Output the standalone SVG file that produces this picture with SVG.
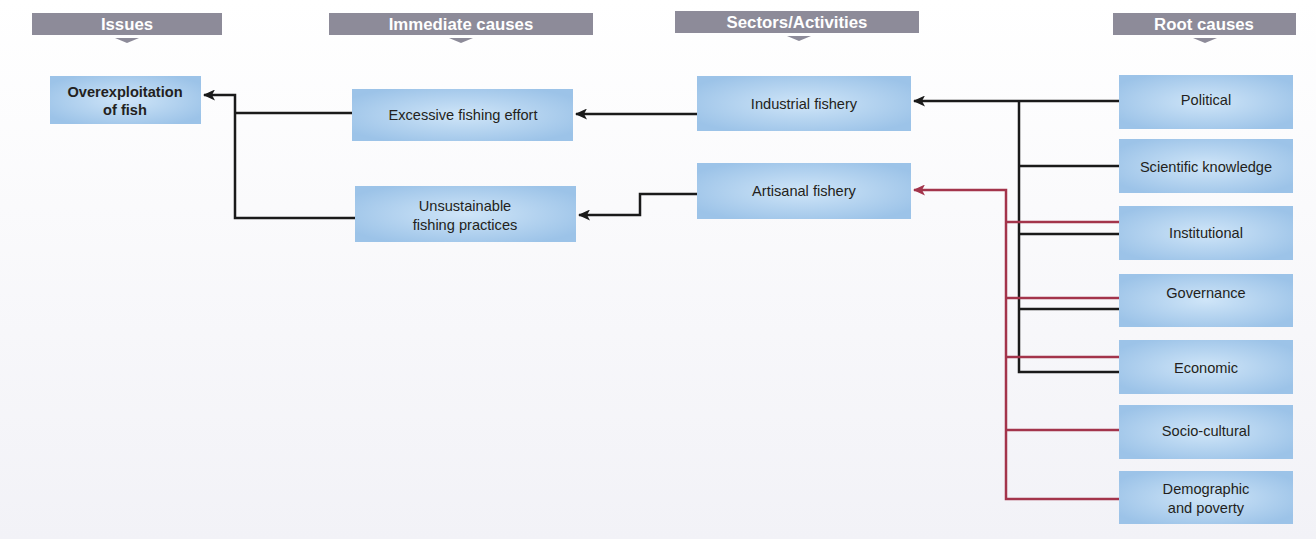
<svg xmlns="http://www.w3.org/2000/svg" width="1316" height="539" viewBox="0 0 1316 539">
<defs>
<linearGradient id="bg" x1="0" y1="0" x2="0" y2="1">
<stop offset="0" stop-color="#ffffff"/>
<stop offset="1" stop-color="#f2f2f7"/>
</linearGradient>
<radialGradient id="nodeFill" cx="0.5" cy="0.5" r="0.6">
<stop offset="0" stop-color="#cfe5f8"/>
<stop offset="1" stop-color="#9cc3e8"/>
</radialGradient>
<marker id="arrowK" viewBox="0 0 12 11" refX="11" refY="5.5" markerWidth="12" markerHeight="11" orient="auto" markerUnits="userSpaceOnUse">
<path d="M12,5.5 L0,0 L3,5.5 L0,11 Z" fill="#1a1a1a"/>
</marker>
<marker id="arrowR" viewBox="0 0 12 11" refX="11" refY="5.5" markerWidth="12" markerHeight="11" orient="auto" markerUnits="userSpaceOnUse">
<path d="M12,5.5 L0,0 L3,5.5 L0,11 Z" fill="#a3344b"/>
</marker>
</defs>
<style>
.hdr{fill:#8d8b99}
.hdrT{font-family:"Liberation Sans",Arial,sans-serif;font-weight:bold;font-size:16.8px;fill:#ffffff;text-anchor:middle}
.node{fill:url(#nodeFill)}
.t{font-family:"Liberation Sans",Arial,sans-serif;font-size:14.6px;fill:#231f20;text-anchor:middle}
.b{font-weight:bold}
.k{fill:none;stroke:#1a1a1a;stroke-width:2.5}
.r{fill:none;stroke:#a3344b;stroke-width:2.5}
</style>
<rect x="0" y="0" width="1316" height="539" fill="url(#bg)"/>

<g id="headers">
<g id="hdr-issues"><rect class="hdr" x="32" y="13" width="190" height="22"/><text class="hdrT" x="127" y="30">Issues</text><path class="hdr" d="M115,38 L139,38 L127,43 Z"/></g>
<g id="hdr-immediate"><rect class="hdr" x="329" y="13" width="264" height="22"/><text class="hdrT" x="461" y="30">Immediate causes</text><path class="hdr" d="M449,38 L473,38 L461,43 Z"/></g>
<g id="hdr-sectors"><rect class="hdr" x="675" y="11" width="244" height="22"/><text class="hdrT" x="797" y="28">Sectors/Activities</text><path class="hdr" d="M787,36 L811,36 L799,41 Z"/></g>
<g id="hdr-root"><rect class="hdr" x="1113" y="13" width="183" height="22"/><text class="hdrT" x="1204" y="30">Root causes</text><path class="hdr" d="M1193,38 L1217,38 L1205,43 Z"/></g>
</g>

<g id="connectors">
<path class="k" d="M1119,101 L914,101" marker-end="url(#arrowK)"/>
<path class="k" d="M1019,101 L1019,372 L1119,372"/>
<path class="k" d="M1019,166 L1119,166"/>
<path class="k" d="M1019,234 L1119,234"/>
<path class="k" d="M1019,309 L1119,309"/>
<path class="k" d="M697,114 L576,114" marker-end="url(#arrowK)"/>
<path class="k" d="M352,113 L235,113"/>
<path class="k" d="M355,218 L235,218 L235,95 L204,95" marker-end="url(#arrowK)"/>
<path class="k" d="M697,194 L640,194 L640,215 L579,215" marker-end="url(#arrowK)"/>
<path class="r" d="M1119,499 L1006,499 L1006,190 L914,190" marker-end="url(#arrowR)"/>
<path class="r" d="M1006,222 L1119,222"/>
<path class="r" d="M1006,298 L1119,298"/>
<path class="r" d="M1006,357 L1119,357"/>
<path class="r" d="M1006,430 L1119,430"/>
</g>

<g id="n-overexploitation"><rect class="node" x="50" y="76" width="151" height="48"/><text class="t b" x="125" y="97">Overexploitation</text><text class="t b" x="125" y="115">of fish</text></g>
<g id="n-excessive"><rect class="node" x="352" y="89" width="221" height="52"/><text class="t" x="463" y="120">Excessive fishing effort</text></g>
<g id="n-unsustainable"><rect class="node" x="355" y="186" width="221" height="56"/><text class="t" x="465" y="211">Unsustainable</text><text class="t" x="465" y="230">fishing practices</text></g>
<g id="n-industrial"><rect class="node" x="697" y="76" width="214" height="55"/><text class="t" x="804" y="109">Industrial fishery</text></g>
<g id="n-artisanal"><rect class="node" x="697" y="163" width="214" height="56"/><text class="t" x="804" y="196">Artisanal fishery</text></g>
<g id="n-political"><rect class="node" x="1119" y="75" width="174" height="54"/><text class="t" x="1206" y="105">Political</text></g>
<g id="n-scientific"><rect class="node" x="1119" y="139" width="174" height="54"/><text class="t" x="1206" y="172">Scientific knowledge</text></g>
<g id="n-institutional"><rect class="node" x="1119" y="206" width="174" height="54"/><text class="t" x="1206" y="238">Institutional</text></g>
<g id="n-governance"><rect class="node" x="1119" y="274" width="174" height="53"/><text class="t" x="1206" y="298">Governance</text></g>
<g id="n-economic"><rect class="node" x="1119" y="340" width="174" height="54"/><text class="t" x="1206" y="373">Economic</text></g>
<g id="n-sociocultural"><rect class="node" x="1119" y="405" width="174" height="54"/><text class="t" x="1206" y="436">Socio-cultural</text></g>
<g id="n-demographic"><rect class="node" x="1119" y="471" width="174" height="53"/><text class="t" x="1206" y="494">Demographic</text><text class="t" x="1206" y="513">and poverty</text></g>
</svg>
